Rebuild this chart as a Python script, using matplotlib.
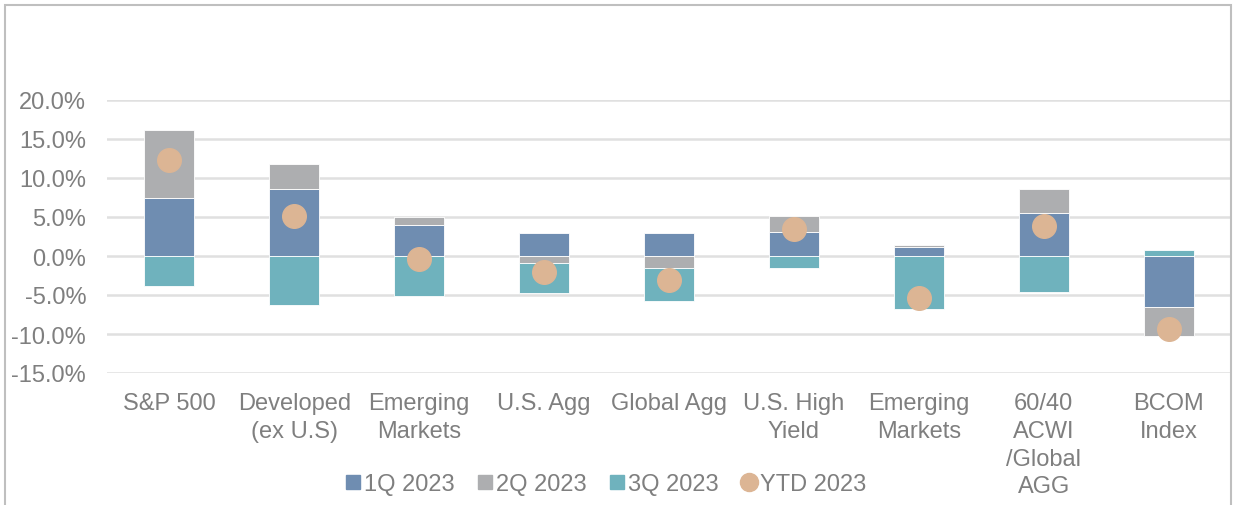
import matplotlib.pyplot as plt
from matplotlib.lines import Line2D
from matplotlib.patches import Rectangle
import numpy as np

plt.rcParams['font.family'] = ['Liberation Sans', 'DejaVu Sans']

categories = ['S&P 500', 'Developed\n(ex U.S)', 'Emerging\nMarkets', 'U.S. Agg',
              'Global Agg', 'U.S. High\nYield', 'Emerging\nMarkets',
              '60/40\nACWI\n/Global\nAGG', 'BCOM\nIndex']
q1_2023 = [7.5, 8.6, 4.0, 2.9, 3.0, 3.1, 1.15, 5.5, -6.5]
q2_2023 = [8.7, 3.2, 1.0, -0.9, -1.5, 2.05, 0.25, 3.1, -3.8]
q3_2023 = [-3.9, -6.3, -5.1, -3.9, -4.3, -1.6, -6.75, -4.6, 0.8]
ytd_2023 = [12.3, 5.1, -0.4, -2.0, -3.1, 3.5, -5.4, 3.9, -9.4]

series = [('1Q 2023', q1_2023, '#6F8DB1'),
          ('2Q 2023', q2_2023, '#ADAEB0'),
          ('3Q 2023', q3_2023, '#6FB2BD')]

W, H = 1237, 506
fig = plt.figure(figsize=(W / 100, H / 100), dpi=100)
ax = fig.add_axes([107 / W, (H - 374) / H, 1124 / W, 273 / H])

x = np.arange(len(categories))
pos_bottom = np.zeros(len(x))
neg_bottom = np.zeros(len(x))
for name, vals, col in series:
    v = np.array(vals)
    bottom = np.where(v >= 0, pos_bottom, neg_bottom)
    ax.bar(x, v, 0.4, bottom=bottom, color=col, edgecolor='white',
           linewidth=0.6, zorder=2)
    pos_bottom += np.where(v >= 0, v, 0)
    neg_bottom += np.where(v < 0, v, 0)

ax.plot(x, ytd_2023, 'o', color='#DCB594', markersize=17, zorder=3)

ax.set_xlim(-0.5, len(x) - 0.5)
ax.set_ylim(-15, 20)
ax.set_yticks(np.arange(-15, 21, 5))
ax.set_yticklabels(['%.1f%%' % t for t in np.arange(-15, 21, 5)])
ax.set_xticks(x)
ax.set_xticklabels(categories, linespacing=1.33)
ax.tick_params(axis='y', length=0, pad=15, labelsize=17, labelcolor='#7F7F7F')
ax.tick_params(axis='x', length=0, pad=14, labelsize=17, labelcolor='#7F7F7F')
ax.grid(axis='y', color='#E0E0E0', linewidth=1.8, zorder=0)
for s in ax.spines.values():
    s.set_visible(False)

handles = [Line2D([], [], marker='s', linestyle='', color=c, markersize=10)
           for _, _, c in series]
handles.append(Line2D([], [], marker='o', linestyle='', color='#DCB594',
                      markersize=13))
labels = [n for n, _, _ in series] + ['YTD 2023']
leg = fig.legend(handles, labels, loc='center', ncol=4, frameon=False,
                 bbox_to_anchor=(606 / W, (H - 485) / H), fontsize=17,
                 handlelength=0.6, handletextpad=0.15, columnspacing=1.0,
                 labelcolor='#7F7F7F')

fig.patches.append(Rectangle((5 / W, -0.1), 1226 / W, 1.1 - 6 / H,
                             transform=fig.transFigure, fill=False,
                             edgecolor='#BFBFBF', linewidth=1.5))

fig.savefig('out.png', dpi=100)
